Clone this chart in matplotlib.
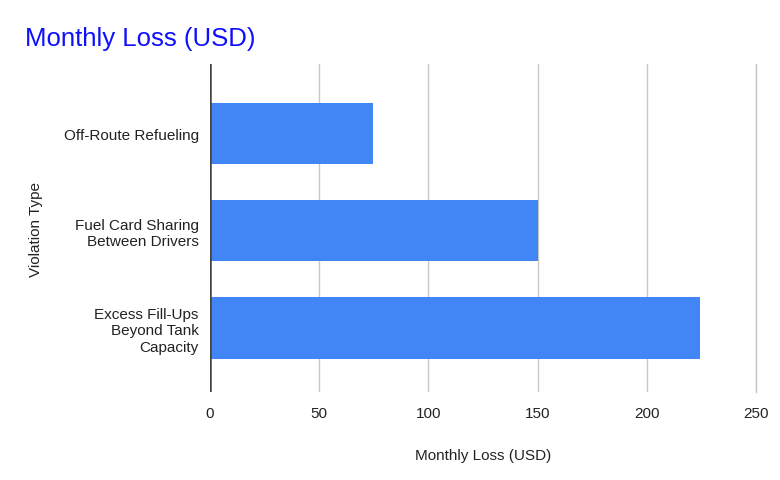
import matplotlib.pyplot as plt

plt.rcParams['font.family'] = ['Liberation Sans', 'DejaVu Sans']

# data
categories = ['Off-Route Refueling', 'Fuel Card Sharing\nBetween Drivers',
              'Excess Fill-Ups\nBeyond Tank\nCapacity']
loss_usd = [74.5, 150, 224.5]
x_ticks = [0, 50, 100, 150, 200, 250]

fig = plt.figure(figsize=(7.8, 4.81), dpi=100)
ax = fig.add_axes([0.2692, 0.183, 0.700, 0.681])

y = range(len(categories))
ax.barh(y, loss_usd, height=0.635, color='#4285f4', zorder=3)

ax.set_xlim(0, 250)
ax.set_ylim(2.66, -0.71)
ax.set_xticks(x_ticks)
ax.set_yticks(list(y))
ax.set_yticklabels(categories, fontsize=11, color='#222222')
ax.tick_params(axis='x', labelsize=11, colors='#222222', length=0, pad=10)
ax.tick_params(axis='y', length=0, pad=8)

ax.grid(axis='x', color='#c8c8c8', linewidth=1, zorder=0)
for s in ax.spines.values():
    s.set_visible(False)
ax.axvline(0, color='#444444', linewidth=1.8, zorder=4)
ax.axvline(250, color='#c8c8c8', linewidth=1, zorder=0, clip_on=False)

ax.set_xlabel('Monthly Loss (USD)', fontsize=11, color='#222222', labelpad=20)
ax.set_ylabel('Violation Type', fontsize=11, color='#222222', labelpad=15)

fig.text(0.032, 0.918, 'Monthly Loss (USD)', fontsize=18.5, color='#0f0fff',
         va='center', ha='left')

fig.savefig('out.png', dpi=100)
